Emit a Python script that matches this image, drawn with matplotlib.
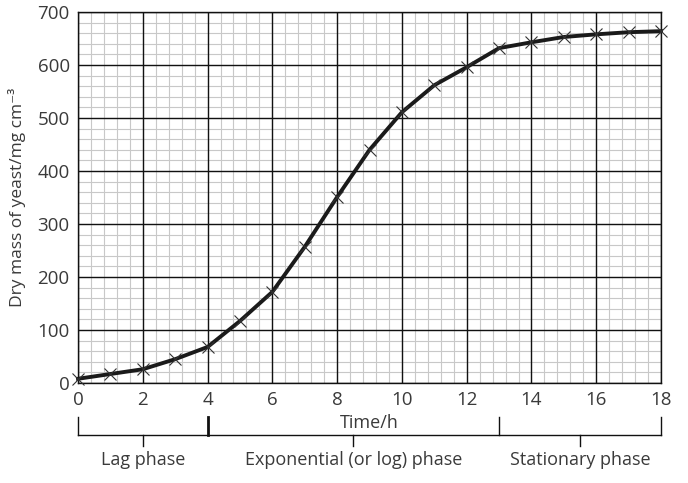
import matplotlib.pyplot as plt
import numpy as np

plt.rcParams['font.family'] = ['Open Sans', 'DejaVu Sans']

hours = [0, 1, 2, 3, 4, 5, 6, 7, 8, 9, 10, 11, 12, 13, 14, 15, 16, 17, 18]
dry_mass = [8, 17, 26, 45, 68, 117, 172, 257, 351, 440, 511, 562, 596, 632, 643, 653, 658, 662, 664]

phase_edges = [0, 4, 13, 18]
phase_names = ["Lag phase", "Exponential (or log) phase", "Stationary phase"]

txt = '#3a3a3a'

fig = plt.figure(figsize=(6.88, 4.83), dpi=100)
ax = fig.add_axes([0.1134, 0.207, 0.8474, 0.768])

ax.set_xlim(0, 18)
ax.set_ylim(0, 700)
ax.set_xticks(np.arange(0, 19, 2))
ax.set_yticks(np.arange(0, 701, 100))

# graph paper: fine grey squares under the black major lines
for x in np.arange(0, 18.01, 0.4):
    ax.axvline(x, color='#c8c8c8', lw=0.8, zorder=0.5)
for y in np.arange(0, 701, 20):
    ax.axhline(y, color='#c8c8c8', lw=0.8, zorder=0.5)
for x in np.arange(0, 19, 2):
    ax.axvline(x, color='#111111', lw=1.0, zorder=0.6)
for y in np.arange(0, 701, 100):
    ax.axhline(y, color='#111111', lw=1.0, zorder=0.6)

for s in ax.spines.values():
    s.set_color('#111111')
    s.set_linewidth(1.0)
ax.tick_params(which='major', length=0, labelsize=13.5, labelcolor=txt, pad=6)

ax.plot(hours, dry_mass, color='#1a1a1a', linewidth=2.8, solid_joinstyle='round',
        marker='x', markersize=9, markeredgewidth=0.8, markeredgecolor='#333333',
        clip_on=False, zorder=5)

ax.set_ylabel("Dry mass of yeast/mg cm⁻³", fontsize=12.5, color=txt, labelpad=8)
ax.text(9, -76, "Time/h", ha='center', va='center', fontsize=13, color=txt)

# phase brackets under the axis
yb, ytop, ydown = -98, -64, -119
ax.plot([phase_edges[0], phase_edges[-1]], [yb, yb], color='#111111', lw=1, clip_on=False)
for e in phase_edges:
    ax.plot([e, e], [yb, ytop], color='#111111', lw=2 if e == 4 else 1, clip_on=False)
for i, name in enumerate(phase_names):
    mid = (phase_edges[i] + phase_edges[i + 1]) / 2
    ax.plot([mid, mid], [yb, ydown], color='#111111', lw=1, clip_on=False)
    ax.text(mid, -146, name, ha='center', va='center', fontsize=13, color=txt)

fig.savefig('out.png', dpi=100)
